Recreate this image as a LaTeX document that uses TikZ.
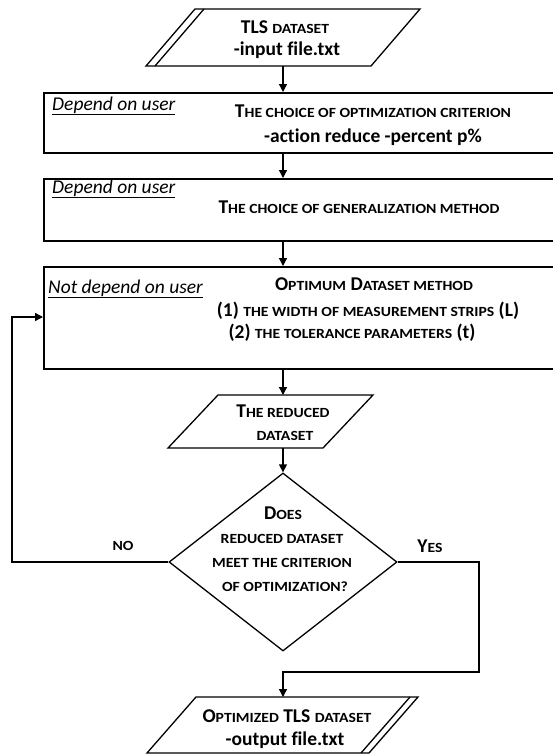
\documentclass[tikz,border=0pt]{standalone}
\usepackage{fontspec}
\setmainfont[Ligatures=NoCommon]{Carlito}
\newfontfamily\scfont[FakeStretch=1.12,Ligatures=NoCommon]{Carlito}
\usetikzlibrary{arrows.meta,shapes.geometric}
\newcommand\SCk[1]{{\scfont\fontsize{14}{16}\selectfont #1}}
\begin{document}
\begin{tikzpicture}[x=1pt,y=-1pt,
  boxst/.style={draw, line width=1.6pt, anchor=north west, minimum width=700pt},
  shp/.style={draw, line width=1.3pt, line join=miter},
  conn/.style={line width=1.3pt, -{Triangle[length=8pt,width=8pt]}},
  txt/.style={font=\fontsize{19.5}{24}\selectfont\bfseries, inner sep=0pt, anchor=base},
  usr/.style={font=\fontsize{19.5}{24}\selectfont\itshape, inner sep=0pt, anchor=base west}]
\useasboundingbox (0,0) rectangle (552,755);
\clip (-1,-1) rectangle (553,756);

% ---- top data shape
\draw[shp] (195,9) -- (420,9) -- (371,66) -- (146,66) -- cycle;
\draw[shp] (204,9) -- (155,66);
\coordinate (inb) at (283,66);
\node[txt] (t1a) at (285,33) {TLS \SCk{DATASET}};
\node[txt] (t1b) at (287,55) {-input file.txt};

% ---- boxes
\node[boxst, minimum height=60pt] (b1) at (43,92) {};
\node[usr] (u1) at (52,110) {\underline{Depend on user}};
\node[txt] (b1a) at (373,117) {T\SCk{HE CHOICE OF OPTIMIZATION CRITERION}};
\node[txt] (b1b) at (373,142) {-action reduce -percent p\%};

\node[boxst, minimum height=62pt] (b2) at (43,178) {};
\node[usr] (u2) at (52,193) {\underline{Depend on user}};
\node[txt] (b2a) at (359,213) {T\SCk{HE CHOICE OF GENERALIZATION METHOD}};

\node[boxst, minimum height=102pt] (b3) at (43,266) {};
\node[usr] (u3) at (48,293) {\underline{Not depend on user}};
\node[txt] (b3a) at (374,290) {O\SCk{PTIMUM} D\SCk{ATASET METHOD}};
\node[txt] (b3b) at (368,316) {(1) \SCk{THE WIDTH OF MEASUREMENT STRIPS} (L)};
\node[txt] (b3c) at (352,338) {(2) \SCk{THE TOLERANCE PARAMETERS} (t)};

% ---- reduced dataset
\draw[shp] (218,395) -- (373,395) -- (323,448) -- (168,448) -- cycle;
\coordinate (rdt) at (283,395);
\coordinate (rdb) at (283,448);
\node[txt] (r1) at (283,417) {T\SCk{HE REDUCED}};
\node[txt] (r2) at (285,440) {\SCk{DATASET}};

% ---- decision
\node[diamond, draw, line width=1.3pt, minimum width=228pt, minimum height=178pt, inner sep=0pt] (dec) at (283,562) {};
\node[txt] (d1) at (283,519) {D\SCk{OES}};
\node[txt] (d2) at (282,543) {\SCk{REDUCED DATASET}};
\node[txt] (d3) at (282,567) {\SCk{MEET THE CRITERION}};
\node[txt] (d4) at (285,591) {\SCk{OF OPTIMIZATION?}};
\node[txt] (no) at (123,550) {\SCk{NO}};
\node[txt] (yes) at (430,552) {Y\SCk{ES}};

% ---- output data shape
\draw[shp] (196,697) -- (418,697) -- (369,753) -- (147,753) -- cycle;
\draw[shp] (410,697) -- (361,753);
\coordinate (outt) at (283,697);
\node[txt] (o1) at (287,722) {O\SCk{PTIMIZED} TLS \SCk{DATASET}};
\node[txt] (o2) at (285,745) {-output file.txt};

% ---- connectors
\draw[conn] (inb) -- (inb |- b1.north);
\draw[conn] (inb |- b1.south) -- (inb |- b2.north);
\draw[conn] (inb |- b2.south) -- (inb |- b3.north);
\draw[conn] (inb |- b3.south) -- (rdt);
\draw[conn] (rdb) -- (dec.north);
\coordinate (nl) at (12,562);
\coordinate (nu) at (12,317);
\draw[conn] (dec.west) -- (nl) -- (nu) -- (nu -| b3.west);
\coordinate (yr) at (479,562);
\coordinate (yd) at (479,672);
\draw[conn] (dec.east) -- (yr) -- (yd) -- (outt |- yd) -- (outt);
\end{tikzpicture}
\end{document}
